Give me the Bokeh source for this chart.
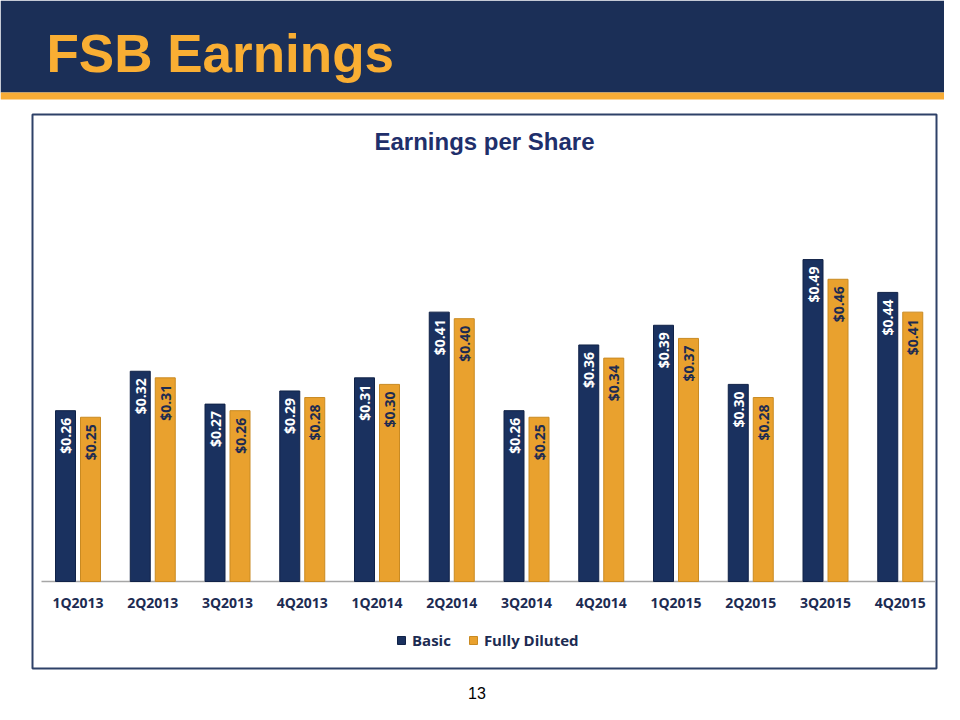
import math
from bokeh.plotting import figure
from bokeh.models import (ColumnDataSource, Range1d, Legend, LegendItem)
from bokeh.transform import dodge
from bokeh.core.properties import value
from bokeh.embed import file_html
from bokeh.resources import INLINE

# ---- data ----
quarters = ['1Q2013', '2Q2013', '3Q2013', '4Q2013', '1Q2014', '2Q2014',
            '3Q2014', '4Q2014', '1Q2015', '2Q2015', '3Q2015', '4Q2015']
basic_eps = [0.26, 0.32, 0.27, 0.29, 0.31, 0.41, 0.26, 0.36, 0.39, 0.30, 0.49, 0.44]
diluted_eps = [0.25, 0.31, 0.26, 0.28, 0.30, 0.40, 0.25, 0.34, 0.37, 0.28, 0.46, 0.41]
series_names = ['Basic', 'Fully Diluted']
slide_title = 'FSB Earnings'
chart_title = 'Earnings per Share'
page_number = '13'

# ---- styling / geometry ----
NAVY_HDR = '#1B2F57'
ORANGE_TXT = '#F9AE33'
NAVY_BAR = '#1A315F'
ORANGE_BAR = '#E9A12E'
LABEL_NAVY = '#1C2B52'
W, H = 944, 704
UNIT = 74.75             # px per category
X0 = 77.5                # px of first category centre
PXU = 657.0              # px per 1.00 $
Y0 = H - 581.0           # px of zero line from figure bottom

src = ColumnDataSource(dict(
    idx=list(range(len(quarters))),
    q=quarters,
    basic=basic_eps,
    diluted=diluted_eps,
    basic_lbl=['$%.2f' % v for v in basic_eps],
    diluted_lbl=['$%.2f' % v for v in diluted_eps],
))

x_start = -X0 / UNIT
y_start = -Y0 / PXU
p = figure(width=W, height=H, output_backend="svg", toolbar_location=None,
           x_range=Range1d(x_start, x_start + W / UNIT),
           y_range=Range1d(y_start, y_start + H / PXU),
           x_axis_location=None, y_axis_location=None,
           min_border=0, min_border_left=0, min_border_right=0,
           min_border_top=0, min_border_bottom=0,
           outline_line_color=None, background_fill_color='white',
           border_fill_color='white')
p.grid.visible = False
# page-pixel ranges for slide decoration
p.extra_x_ranges = {'px': Range1d(0, W)}
p.extra_y_ranges = {'py': Range1d(H, 0)}

# header band and stripe
p.quad(left=[0], right=[960], top=[0], bottom=[92], fill_color=NAVY_HDR,
       line_color=None, x_range_name='px', y_range_name='py')
p.quad(left=[0], right=[960], top=[92], bottom=[99], fill_color='#F8AC36',
       line_color=None, x_range_name='px', y_range_name='py')
p.text(x=[46], y=[53], text=[slide_title], text_font=value('Liberation Sans'),
       text_font_style='bold', text_font_size='53px', text_color=ORANGE_TXT,
       text_align='left', text_baseline='middle',
       x_range_name='px', y_range_name='py')

# chart box
p.quad(left=[32], right=[936], top=[114], bottom=[668], fill_color=None,
       line_color='#2E4168', line_width=2, x_range_name='px', y_range_name='py')
p.text(x=[484], y=[141], text=[chart_title], text_font=value('Liberation Sans'),
       text_font_style='bold', text_font_size='24px', text_color='#1F2F6B',
       text_align='center', text_baseline='middle',
       x_range_name='px', y_range_name='py')

# axis line at zero
p.segment(x0=[41], x1=[935], y0=[0], y1=[0], line_color='#A6A6A6', line_width=1.5,
          x_range_name='px')

BW = 20 / UNIT
OFF = 12.5 / UNIT
r_basic = p.vbar(x=dodge('idx', -OFF), top='basic', bottom=0, width=BW, source=src,
                 fill_color=NAVY_BAR, line_color='#102247', line_width=1)
r_dil = p.vbar(x=dodge('idx', OFF), top='diluted', bottom=0, width=BW, source=src,
               fill_color=ORANGE_BAR, line_color='#C98A22', line_width=1)

# value labels inside bars
lbl_kw = dict(text_font=value('Open Sans'), text_font_style='bold',
              text_font_size='14px', angle=math.pi / 2, text_align='right',
              text_baseline='middle', y_offset=7, source=src)
p.text(x=dodge('idx', -OFF), y='basic', text='basic_lbl', text_color='white', **lbl_kw)
p.text(x=dodge('idx', OFF), y='diluted', text='diluted_lbl', text_color=LABEL_NAVY, **lbl_kw)

# category labels
p.text(x='idx', y=602, text='q', source=src, y_range_name='py',
       text_font=value('Open Sans'), text_font_style='bold', text_font_size='14px',
       text_color=LABEL_NAVY, text_align='center', text_baseline='middle')

# page number
p.text(x=[476.5], y=[692], text=[page_number], text_font=value('Liberation Sans'),
       text_font_size='16px', text_color='black', text_align='center',
       text_baseline='middle', x_range_name='px', y_range_name='py')

legend = Legend(items=[LegendItem(label=series_names[0], renderers=[r_basic]),
                       LegendItem(label=series_names[1], renderers=[r_dil])],
                orientation='horizontal', location=(396, 54),
                glyph_width=10, glyph_height=10, label_height=10,
                label_standoff=6, spacing=17, padding=0, margin=0,
                background_fill_alpha=0, border_line_color=None,
                label_text_font='Open Sans', label_text_font_style='bold',
                label_text_font_size='15px', label_text_color=LABEL_NAVY)
p.add_layout(legend)

open("out.html", "w").write(file_html(p, INLINE))
